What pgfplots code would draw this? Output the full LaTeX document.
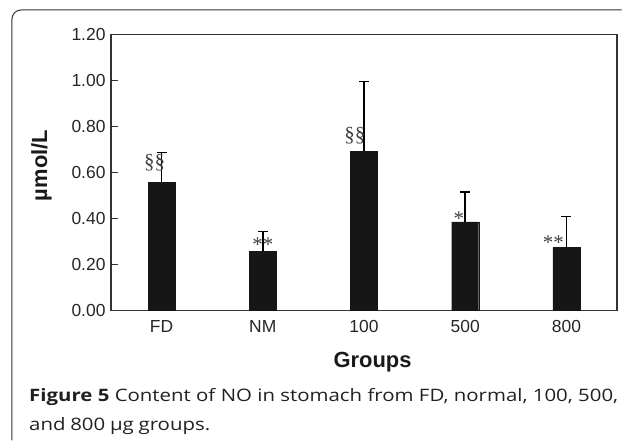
\documentclass[border=0pt]{standalone}
\usepackage{pgfplots}
\pgfplotsset{compat=1.18}
\usepackage{fontspec}
\setmainfont{Liberation Sans}
\newfontfamily\capfont[FakeStretch=1.19]{Open Sans}
\newfontfamily\annfont{Liberation Serif}
\definecolor{frame}{HTML}{333333}
\definecolor{barc}{HTML}{161616}
\definecolor{captxt}{HTML}{231F20}
\begin{document}
\begin{tikzpicture}
\begin{axis}[
  at={(0,0)}, anchor=south west,
  scale only axis, width=506bp, height=276.4bp,
  ybar, bar width=27bp,
  xmin=-0.5, xmax=4.5, ymin=0, ymax=1.2,
  axis line style={frame, line width=1.2bp},
  xtick=data, xticklabels={FD,NM,100,500,800},
  x tick style={draw=none},
  ytick={0,0.2,0.4,0.6,0.8,1.0,1.2},
  ytick pos=left, tick align=inside,
  major tick length=7bp,
  y tick style={frame, line width=1.2bp},
  /pgf/number format/assume math mode=true,
  yticklabel style={xshift=-2bp, /pgf/number format/fixed, /pgf/number format/fixed zerofill, /pgf/number format/precision=2},
  ticklabel style={font=\fontsize{17.5}{19}\selectfont, text=black!85},
  xticklabel style={yshift=-6.5bp},
  clip=false,
]
\addplot[fill=barc, draw=barc,
  error bars/y dir=plus, error bars/y explicit,
  error bars/error bar style={line width=1.5bp, black},
  error bars/error mark options={rotate=90, line width=1.5bp, mark size=5bp, black}]
  coordinates {
  (0,0.558) +- (0,0.129)
  (1,0.259) +- (0,0.084)
  (2,0.692) +- (0,0.303)
  (3,0.386) +- (0,0.130)
  (4,0.274) +- (0,0.134)
  };
\begin{scope}[every node/.style={anchor=north, inner sep=0pt, text=black!75, font=\annfont\fontsize{21}{23}\selectfont}]
\node at (axis cs:-0.069,0.680) {§§};
\node at (axis cs:1.0,0.318) {**};
\node at (axis cs:1.91,0.797) {§§};
\node at (axis cs:2.938,0.432) {*};
\node at (axis cs:3.872,0.324) {**};
\end{scope}
\end{axis}
\begin{scope}[x=1bp, y=1bp, shift={(-111bp,-130.3bp)}]
\path (0,0) rectangle (622,441);
\draw[frame, line width=1bp] (12,0.5) -- (12,441-19) arc[start angle=180, end angle=90, radius=9] -- (621.5,441-10);
\node[rotate=90, font=\bfseries\fontsize{22}{25}\selectfont, text=black!90] at (41.5,441-165.5) {µmol/L};
\node[anchor=base, font=\bfseries\fontsize{22}{26}\selectfont, text=black!90] at (372.5,441-367.3) {Groups};
\node[anchor=base west, inner sep=0pt, font=\capfont\fontsize{17.2}{20}\selectfont, text=captxt] at (29,441-401.7)
  {\makebox[589bp][s]{\textbf{Figure 5} Content of NO in stomach from FD, normal, 100, 500,}};
\node[anchor=base west, inner sep=0pt, font=\capfont\fontsize{17.2}{20}\selectfont, text=captxt] at (29,441-430.7)
  {\makebox[181bp][s]{and 800 µg groups.}};
\end{scope}
\end{tikzpicture}
\end{document}
